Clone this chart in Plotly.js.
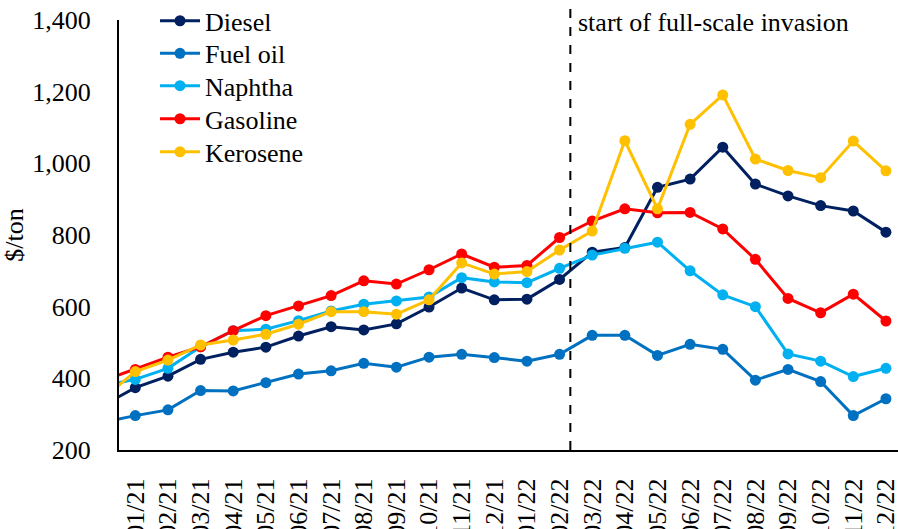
<!DOCTYPE html>
<html>
<head>
<meta charset="utf-8">
<script src="https://cdn.plot.ly/plotly-3.0.1.min.js"></script>
<style>html,body{margin:0;padding:0;background:#fff}#chart{width:898px;height:529px}</style>
</head>
<body>
<div id="chart"></div>
<script>
// month labels (first entry is the preceding month, only partly visible at the left edge)
const months = ["12/20","01/21","02/21","03/21","04/21","05/21","06/21","07/21","08/21","09/21","10/21","11/21","12/21",
                "01/22","02/22","03/22","04/22","05/22","06/22","07/22","08/22","09/22","10/22","11/22","12/22"];
const diesel   = [324,374,406,453,473,487,518,544,535,552,599,652,619,621,676,752,765,933,956,1045,942,909,882,867,808];
const fuelOil  = [277,296,312,366,365,388,412,421,442,431,459,467,458,448,467,520,520,464,495,481,395,425,391,296,343];
const naphtha  = [379,397,428,488,533,537,561,588,607,616,627,681,669,667,707,744,763,780,700,633,600,468,448,405,428];
const gasoline = [393,425,459,488,533,575,602,631,672,663,703,747,710,715,793,839,873,862,863,817,732,623,583,635,560];
const kerosene = [343,419,451,493,507,523,551,586,586,579,619,722,691,698,758,811,1063,873,1109,1191,1012,980,960,1062,979];
const yTicks = [200,400,600,800,1000,1200,1400];
const invasionPos = 13.33; // between 02/22 and 03/22

const xIdx = months.map((m,i)=>i-1);
const tickIdx = xIdx.slice(1);
const tickLabels = months.slice(1);

const series = [
  {name:"Diesel", y:diesel, color:"#002060"},
  {name:"Fuel oil", y:fuelOil, color:"#0070C0"},
  {name:"Naphtha", y:naphtha, color:"#00B0F0"},
  {name:"Gasoline", y:gasoline, color:"#FF0000"},
  {name:"Kerosene", y:kerosene, color:"#FFC000"}
];

const legendIds = ["legend","legend2","legend3","legend4","legend5"];
const legendY = [0.998, 0.9224, 0.8469, 0.7701, 0.6934];

const traces = series.map((s,i)=>({
  type:"scatter", mode:"lines+markers", name:s.name, x:xIdx, y:s.y, legend:legendIds[i],
  line:{color:s.color, width:3}, marker:{color:s.color, size:11}, cliponaxis:true
}));

const FAM = "Liberation Serif";
const font = {family:FAM, size:26, color:"#000"};

const layout = {
  width:898, height:529,
  margin:{l:119, r:0, t:20, b:79, autoexpand:false},
  paper_bgcolor:"#fff", plot_bgcolor:"#fff",
  font:font,
  showlegend:true,
  xaxis:{range:[-0.5,23.37], tickvals:tickIdx, ticktext:tickLabels, tickangle:-90,
         showgrid:false, zeroline:false, showline:true, linecolor:"#000", linewidth:2,
         ticks:"", ticklabelstandoff:16, ticklabeloverflow:"allow", automargin:false,
         tickfont:{family:FAM, size:26, color:"#000"}},
  yaxis:{range:[200,1400], tickvals:yTicks, tickformat:",d", showgrid:false, zeroline:false,
         showline:true, linecolor:"#000", linewidth:2, ticks:"", ticklabelstandoff:21, automargin:false,
         tickfont:{family:FAM, size:26, color:"#000"},
         title:{text:"$/ton", font:{family:FAM, size:26, color:"#000"}, standoff:6}},
  shapes:[{type:"line", xref:"x", yref:"paper", x0:invasionPos, x1:invasionPos, y0:0, y1:1.04,
           line:{color:"#000", width:2, dash:"dash"}}],
  annotations:[{text:"start of full-scale invasion", xref:"x", yref:"paper", x:invasionPos, y:1.0,
                xanchor:"left", yanchor:"middle", xshift:6, yshift:-2, showarrow:false,
                font:{family:FAM, size:26, color:"#000"}}]
};
legendIds.forEach((id,i)=>{
  layout[id] = {x:0.0462, y:legendY[i], xanchor:"left", yanchor:"middle", bgcolor:"rgba(0,0,0,0)",
                font:{family:FAM, size:26, color:"#000"}, itemwidth:40};
});

Plotly.newPlot("chart", traces, layout, {displayModeBar:false, staticPlot:true});
</script>
</body>
</html>
